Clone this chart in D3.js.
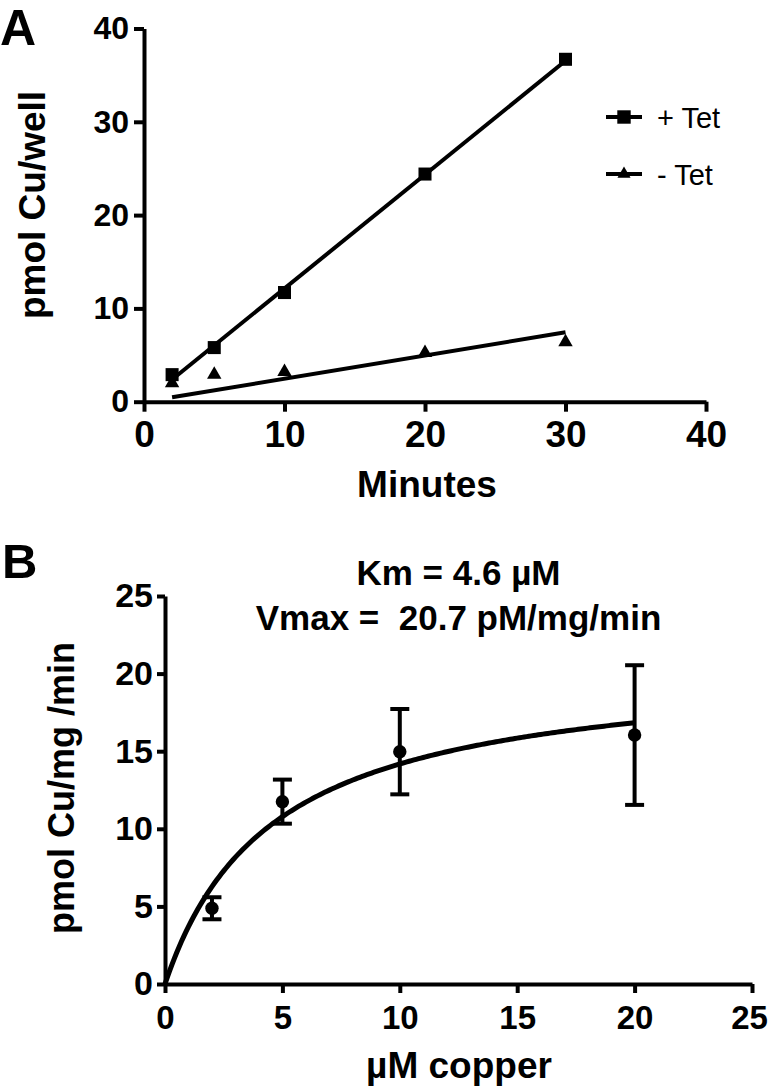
<!DOCTYPE html>
<html>
<head>
<meta charset="utf-8">
<script src="https://cdn.jsdelivr.net/npm/d3@7"></script>
<style>
  body { margin: 0; background: #fff; }
  text { font-family: "Liberation Sans", Arial, sans-serif; fill: #000; }
</style>
</head>
<body>
<div id="chart"></div>
<script>
// panel A data: copper uptake over time
var minutes = [2, 5, 10, 20, 30];
var plusTet = [2.9, 5.8, 11.7, 24.4, 36.7];
var minusTet = [2.0, 2.9, 3.2, 5.25, 6.4];
var seriesNames = ["+ Tet", "- Tet"];
// linear fits as printed (slope, intercept)
var fitSlope = [1.22, 0.249];
var fitIntercept = [-0.06, -0.03];
var ticksA = [0, 10, 20, 30, 40];

// panel B data: kinetics
var copper = [2, 5, 10, 20];
var rate = [4.88, 11.75, 14.97, 16.04];
var rateErr = [0.71, 1.42, 2.75, 4.5];
var Km = 4.6, Vmax = 20.7;
var ticksB = [0, 5, 10, 15, 20, 25];
var titleB = ["Km = 4.6 \u00b5M", "Vmax =\u00a0 20.7 pM/mg/min"];

var svg = d3.select("#chart").append("svg")
    .attr("width", 769)
    .attr("height", 1088);

function styleAxis(g, size) {
  g.select(".domain").attr("stroke-width", 4).attr("stroke", "#000");
  g.selectAll(".tick line").attr("stroke-width", 4).attr("stroke", "#000");
  g.selectAll(".tick text")
    .attr("font-size", size)
    .attr("font-weight", "bold")
    .attr("font-family", "Liberation Sans, Arial, sans-serif")
    .attr("fill", "#000");
}

// ---------- Panel A ----------
var xA = d3.scaleLinear().domain([0, 40]).range([144, 706]);
var yA = d3.scaleLinear().domain([0, 40]).range([401.7, 28.5]);

svg.append("g")
  .attr("transform", "translate(0," + yA(0) + ")")
  .call(d3.axisBottom(xA).tickValues(ticksA).tickSize(10).tickSizeOuter(0).tickPadding(9))
  .call(styleAxis, 37);

svg.append("g")
  .attr("transform", "translate(" + xA(0) + ",0)")
  .call(d3.axisLeft(yA).tickValues(ticksA).tickSize(10).tickSizeOuter(0).tickPadding(5))
  .call(styleAxis, 32);

// fitted lines
var seriesA = [plusTet, minusTet];
seriesA.forEach(function(s, i) {
  var x0 = minutes[0], x1 = minutes[minutes.length - 1];
  svg.append("line")
    .attr("x1", xA(x0)).attr("y1", yA(fitSlope[i] * x0 + fitIntercept[i]))
    .attr("x2", xA(x1)).attr("y2", yA(fitSlope[i] * x1 + fitIntercept[i]))
    .attr("stroke", "#000")
    .attr("stroke-width", 4);
});

// points
var symbols = [d3.symbol().type(d3.symbolSquare).size(170),
               d3.symbol().type(d3.symbolTriangle).size(90)];
seriesA.forEach(function(s, i) {
  svg.selectAll(".pt" + i)
    .data(s)
    .enter().append("path")
    .attr("d", symbols[i])
    .attr("transform", function(d, j) { return "translate(" + xA(minutes[j]) + "," + yA(d) + ")"; })
    .attr("fill", "#000");
});

// legend
var legendSymbols = [d3.symbol().type(d3.symbolSquare).size(180),
                     d3.symbol().type(d3.symbolTriangle).size(75)];
seriesNames.forEach(function(name, i) {
  var ly = 117 + i * 57;
  svg.append("line")
    .attr("x1", 606).attr("x2", 642).attr("y1", ly).attr("y2", ly)
    .attr("stroke", "#000").attr("stroke-width", 4);
  svg.append("path")
    .attr("d", legendSymbols[i])
    .attr("transform", "translate(624," + ly + ")")
    .attr("fill", "#000");
  svg.append("text")
    .attr("x", 657).attr("y", ly + 11)
    .attr("font-size", 29)
    .text(name);
});

// axis titles A
svg.append("text")
  .attr("x", 427).attr("y", 497)
  .attr("text-anchor", "middle")
  .attr("font-size", 37).attr("font-weight", "bold")
  .text("Minutes");
svg.append("text")
  .attr("transform", "translate(45,205) rotate(-90)")
  .attr("text-anchor", "middle")
  .attr("font-size", 37).attr("font-weight", "bold")
  .text("pmol Cu/well");
svg.append("text")
  .attr("x", 0).attr("y", 45)
  .attr("font-size", 50).attr("font-weight", "bold")
  .text("A");

// ---------- Panel B ----------
var xB = d3.scaleLinear().domain([0, 25]).range([165, 752]);
var yB = d3.scaleLinear().domain([0, 25]).range([984, 596]);

svg.append("g")
  .attr("transform", "translate(0," + yB(0) + ")")
  .call(d3.axisBottom(xB).tickValues(ticksB).tickSize(9).tickSizeOuter(0).tickPadding(13))
  .call(styleAxis, 33);
// keep the last label inside the page
svg.selectAll("text").filter(function() { return this.textContent === "25" && +d3.select(this).attr("dy").replace("em", "") > 0.5; })
  .attr("dx", -3);

svg.append("g")
  .attr("transform", "translate(" + xB(0) + ",0)")
  .call(d3.axisLeft(yB).tickValues(ticksB).tickSize(8).tickSizeOuter(0).tickPadding(4))
  .call(styleAxis, 34);

// Michaelis-Menten fit from the printed Km / Vmax
var curve = d3.range(0, 20.001, 0.1);
svg.append("path")
  .datum(curve)
  .attr("d", d3.line()
    .x(function(s) { return xB(s); })
    .y(function(s) { return yB(Vmax * s / (Km + s)); }))
  .attr("fill", "none")
  .attr("stroke", "#000")
  .attr("stroke-width", 5);

// error bars
var eb = svg.selectAll(".eb").data(rate).enter().append("g");
eb.append("line")
  .attr("x1", function(d, i) { return xB(copper[i]); })
  .attr("x2", function(d, i) { return xB(copper[i]); })
  .attr("y1", function(d, i) { return yB(d + rateErr[i]); })
  .attr("y2", function(d, i) { return yB(d - rateErr[i]); })
  .attr("stroke", "#000").attr("stroke-width", 4);
[1, -1].forEach(function(sign) {
  eb.append("line")
    .attr("x1", function(d, i) { return xB(copper[i]) - 9.5; })
    .attr("x2", function(d, i) { return xB(copper[i]) + 9.5; })
    .attr("y1", function(d, i) { return yB(d + sign * rateErr[i]); })
    .attr("y2", function(d, i) { return yB(d + sign * rateErr[i]); })
    .attr("stroke", "#000").attr("stroke-width", 4);
});
eb.append("circle")
  .attr("cx", function(d, i) { return xB(copper[i]); })
  .attr("cy", function(d) { return yB(d); })
  .attr("r", 6.7)
  .attr("fill", "#000");

// titles B
titleB.forEach(function(t, i) {
  svg.append("text")
    .attr("x", 458.5).attr("y", 585 + i * 45)
    .attr("text-anchor", "middle")
    .attr("font-size", 35).attr("font-weight", "bold")
    .text(t);
});
svg.append("text")
  .attr("x", 459).attr("y", 1078)
  .attr("text-anchor", "middle")
  .attr("font-size", 37).attr("font-weight", "bold")
  .text("\u00b5M copper");
svg.append("text")
  .attr("transform", "translate(74,788) rotate(-90)")
  .attr("text-anchor", "middle")
  .attr("font-size", 36).attr("font-weight", "bold")
  .text("pmol Cu/mg /min");
svg.append("text")
  .attr("x", 2).attr("y", 578)
  .attr("font-size", 49).attr("font-weight", "bold")
  .text("B");
</script>
</body>
</html>
